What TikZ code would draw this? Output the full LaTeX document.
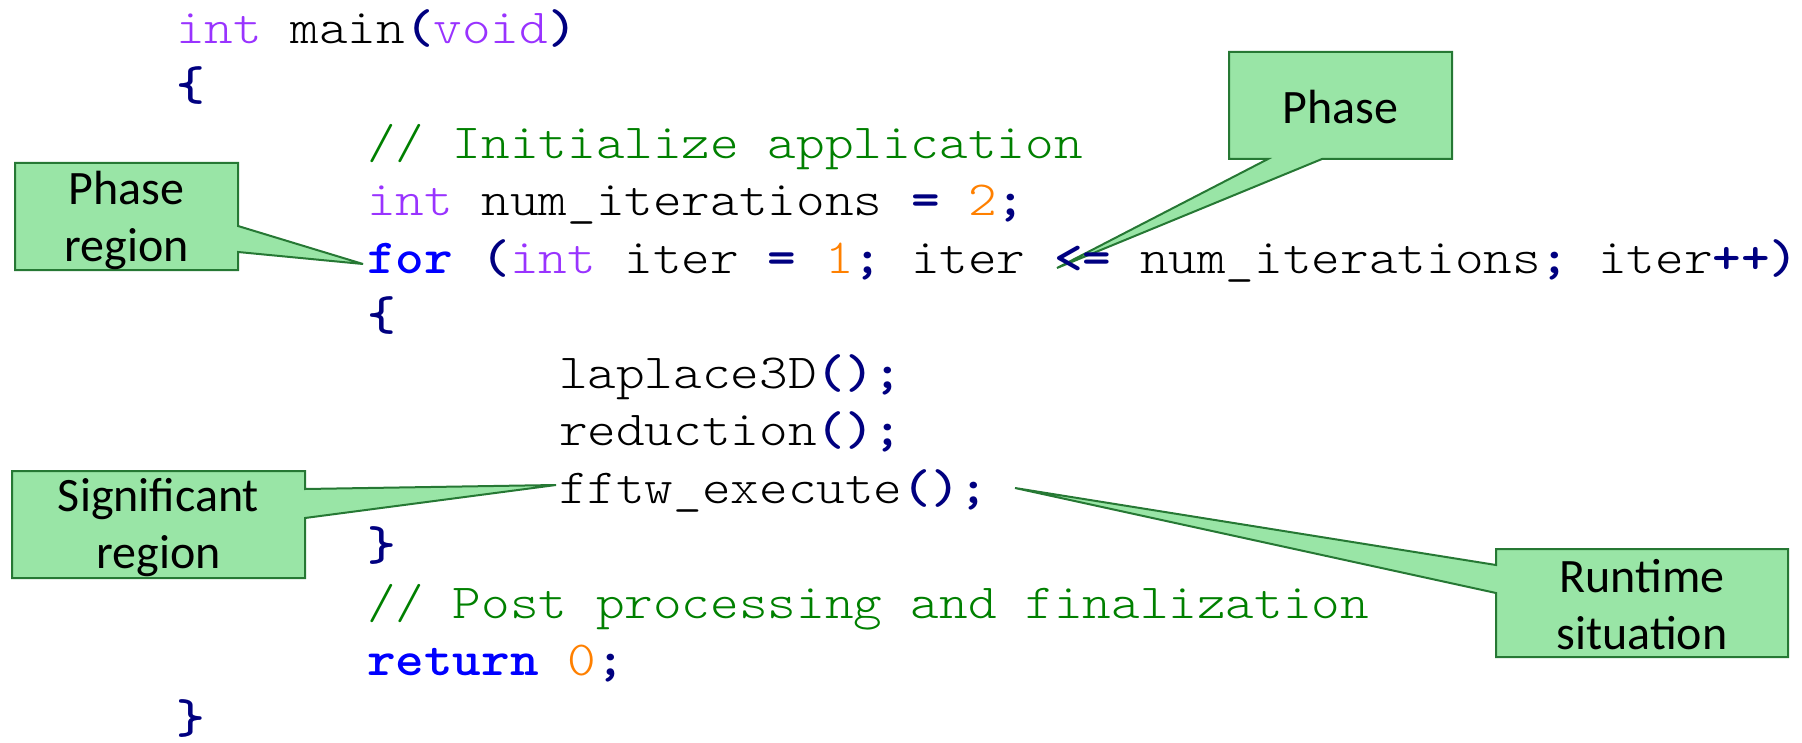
\documentclass[tikz,border=0pt]{standalone}
\usepackage{fontspec}
\newfontfamily\codefont{lmmonolt10-regular.otf}[BoldFont=lmmonolt10-bold.otf, FakeStretch=1.113]
\newfontfamily\notefont{Carlito}
\usetikzlibrary{positioning,calc,backgrounds}

\definecolor{kwblue}{RGB}{0,0,255}
\definecolor{typurple}{RGB}{153,51,255}
\definecolor{punavy}{RGB}{0,0,128}
\definecolor{numorange}{RGB}{255,128,0}
\definecolor{comgreen}{RGB}{0,128,0}
\definecolor{notefill}{RGB}{153,229,166}
\definecolor{noteline}{RGB}{38,120,52}

\newcommand{\ckey}[1]{\textcolor{kwblue}{\bfseries #1}}
\newcommand{\ctype}[1]{\textcolor{typurple}{#1}}
\newcommand{\cpun}[1]{\textcolor{punavy}{\bfseries #1}}
\newcommand{\cnum}[1]{\textcolor{numorange}{#1}}
\newcommand{\ccom}[1]{\textcolor{comgreen}{#1}}

\tikzset{
  code/.style={anchor=base west, inner sep=0pt, outer sep=0pt,
    font=\codefont\fontsize{24.5}{30}\selectfont\frenchspacing},
  notebox/.style={inner sep=0pt, outer sep=0pt},
  notetext/.style={inner sep=0pt, align=center,
    font=\notefont\fontsize{24}{28.5}\selectfont},
  callout/.style={fill=notefill, draw=noteline, line width=1pt},
}

\begin{document}
\begin{tikzpicture}[x=0.5pt,y=-0.5pt]
	\useasboundingbox (0,0) rectangle (1802,743);

	\node[code] (l1) at (176,43.2) {\ctype{int} main\cpun{(}\ctype{void}\cpun{)}};
	\node[code] (l2) at (176,100.7) {\cpun{\{}};
	\node[code] (l3) at (367,158.2) {\ccom{// Initialize application}};
	\node[code] (l4) at (367,215.7) {\ctype{int} num\_iterations \cpun{=} \cnum{2}\cpun{;}};
	\node[code] (l5) at (367,273.2) {\ckey{for} \cpun{(}\ctype{int} iter \cpun{=} \cnum{1}\cpun{;} iter \cpun{<=} num\_iterations\cpun{;} iter\cpun{++)}};
	\node[code] (l6) at (367,330.7) {\cpun{\{}};
	\node[code] (l7) at (559,388.2) {laplace3D\cpun{();}};
	\node[code] (l8) at (559,445.7) {reduction\cpun{();}};
	\node[code] (l9) at (559,503.2) {fftw\_execute\cpun{();}};
	\node[code] (l10) at (367,560.7) {\cpun{\}}};
	\node[code] (l11) at (367,618.2) {\ccom{// Post processing and finalization}};
	\node[code] (l12) at (367,675.7) {\ckey{return} \cnum{0}\cpun{;}};
	\node[code] (l13) at (176,733.2) {\cpun{\}}};

	\coordinate (tipFor) at ($(l5.base west)+(-4,-9.2)$);
	\coordinate (tipCmp) at ($(l5.base west)+(690,-5.2)$);
	\coordinate (tipFftw) at ($(l9.base west)+(-3,-18.2)$);
	\coordinate (tipRun) at ($(l9.base west)+(456,-15.2)$);

	\node[notebox, minimum width=111.5pt, minimum height=53.5pt] (PhaseRegion) at (126.5,216.5) {};
	\node[notebox, minimum width=111.5pt, minimum height=53.5pt] (Phase) at (1340.5,105.5) {};
	\node[notebox, minimum width=146.5pt, minimum height=53.5pt] (SigRegion) at (158.5,524.5) {};
	\node[notebox, minimum width=146pt, minimum height=54pt] (RunSit) at (1642,603) {};

	\node[notetext] (PhaseRegionTxt) at ([yshift=-1.75pt]PhaseRegion.center) {Phase\\region};
	\node[notetext] (PhaseTxt) at ([yshift=-0.75pt]Phase.center) {Phase};
	\node[notetext] (SigRegionTxt) at ([yshift=-1.75pt]SigRegion.center) {Significant\\region};
	\node[notetext] (RunSitTxt) at ([yshift=-1pt]RunSit.center) {Runtime\\situation};

	\begin{scope}[on background layer]
		\draw[callout] (PhaseRegion.north west) -- (PhaseRegion.north east)
			-- ([yshift=-4.75pt]PhaseRegion.east) -- (tipFor) -- ([yshift=-17.75pt]PhaseRegion.east)
			-- (PhaseRegion.south east) -- (PhaseRegion.south west) -- cycle;
		\draw[callout] (Phase.north west) -- (Phase.north east) -- (Phase.south east)
			-- ([xshift=-9.25pt]Phase.south) -- (tipCmp) -- ([xshift=-36.25pt]Phase.south)
			-- (Phase.south west) -- cycle;
		\draw[callout] (SigRegion.north west) -- (SigRegion.north east)
			-- ([yshift=17.75pt]SigRegion.east) -- (tipFftw) -- ([yshift=3.25pt]SigRegion.east)
			-- (SigRegion.south east) -- (SigRegion.south west) -- cycle;
		\draw[callout] (RunSit.north west) -- (RunSit.north east) -- (RunSit.south east)
			-- (RunSit.south west) -- ([yshift=5pt]RunSit.west) -- (tipRun)
			-- ([yshift=19pt]RunSit.west) -- cycle;
	\end{scope}
\end{tikzpicture}
\end{document}
